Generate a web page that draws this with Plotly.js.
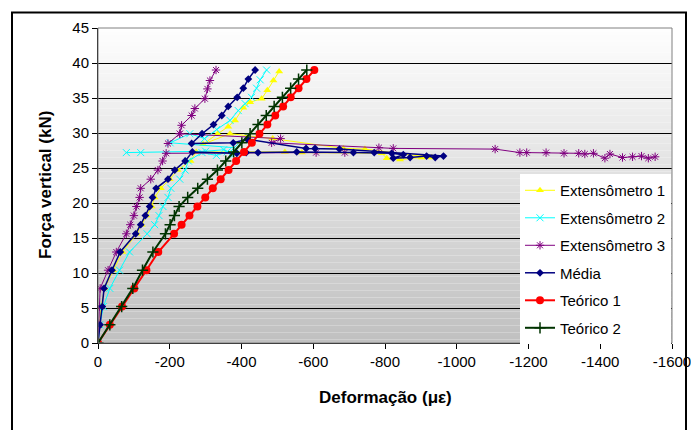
<!DOCTYPE html>
<html>
<head>
<meta charset="utf-8">
<script src="https://cdn.plot.ly/plotly-3.0.1.min.js"></script>
<style>html,body{margin:0;padding:0;background:#fff;}#chart{width:691px;height:430px;}</style>
</head>
<body>
<div id="chart"></div>
<script>
// ---- Data ----
const seriesNames = ["Extensômetro 1", "Extensômetro 2", "Extensômetro 3", "Média", "Teórico 1", "Teórico 2"];

const ext1X = [0,-4,-9,-18,-42,-68,-108,-122,-135,-150,-158,-175,-200,-222,-258,-274,-521,-568,-791,-805,-842,-902,-930,-744,-684,-487,-368,-293,-334,-363,-382,-405,-424,-456,-472,-489,-505];
const ext1Y = [0,2.6,5.2,7.8,10.4,13,15.6,16.9,18.2,19.5,20.8,22.1,23.4,24.7,26,27.3,27.3,27.2,27.1,26.4,26.2,26.5,26.5,27.7,27.8,29.2,29.9,28.4,29.9,30.9,31.8,33.6,34.4,34.9,36.1,37.5,38.8];

const ext2X = [0,-5,-15,-33,-60,-88,-137,-158,-170,-181,-195,-203,-228,-243,-252,-290,-330,-360,-380,-350,-300,-119,-79,null,-380,-201,-256,-297,-331,-368,-391,-410,-428,-442,-452,-470];
const ext2Y = [0,2.6,5.2,7.8,10.4,13,15.6,16.9,18.2,19.5,20.8,22.1,23.4,24.7,26,27.2,26.8,27.3,27.0,27.6,27.4,27.2,27.2,null,27.9,28.6,29.9,29.2,30.5,31.8,33.2,34.2,35.1,36.4,37.6,39.0];

const ext3X = [0,-2,-4,-6,-28,-51,-79,-90,-100,-107,-116,-119,-147,-167,-180,-190,-608,-688,null,-195,-228,-509,-484,-783,-823,-1107,-1176,-1195,-1249,-1299,-1340,-1357,-1381,-1413,-1427,-1462,-1490,-1515,-1534,-1553,null,-228,-233,-261,-270,-298,-305,-312,-329];
const ext3Y = [0,2.6,5.2,7.8,10.4,13,15.6,16.9,18.2,19.5,20.8,22.1,23.4,24.7,26,27.1,27.2,27.2,null,28.5,29.9,29.2,28.6,27.9,27.8,27.7,27.2,27.2,27.2,27.1,27.1,27.0,27.1,26.4,27.0,26.5,26.6,26.7,26.4,26.6,null,29.9,31.1,32.5,33.5,34.9,36.3,37.5,39.0];

const mediaX = [0,-6,-12,-17,-39,-62,-105,-119,-132,-144,-152,-162,-195,-214,-243,-263,-387,-413,-446,-554,-712,-770,-819,-851,-823,-870,-916,-940,-963,-673,-605,-580,-416,-377,-261,-290,-322,-345,-363,-388,-405,-419,-438];
const mediaY = [0,2.6,5.2,7.8,10.4,13,15.6,16.9,18.2,19.5,20.8,22.1,23.4,24.7,26,27.3,27.1,27.2,27.2,27.3,27.2,27.2,27.1,26.9,26.4,26.5,26.7,26.5,26.7,27.7,27.8,27.8,29.1,28.6,28.5,29.9,31.2,32.5,33.8,35.1,36.4,37.7,39.0];

const teo1X = [0,-33,-67,-101,-135,-168,-212,-233,-255,-277,-299,-320,-342,-364,-385,-407,-429,-450,-472,-494,-516,-537,-559,-581,-603];
const teo1Y = [0,2.6,5.2,7.8,10.4,13,15.6,16.9,18.2,19.5,20.8,22.1,23.4,24.7,26,27.3,28.6,29.9,31.2,32.5,33.8,35.1,36.4,37.7,39];

const teo2X = [0,-33,-66,-97,-124,-153,-188,-201,-213,-226,-250,-278,-305,-333,-356,-378,-401,-424,-446,-469,-491,-514,-537,-559,-582];
const teo2Y = [0,2.6,5.2,7.8,10.4,13,15.6,16.9,18.2,19.5,20.8,22.1,23.4,24.7,26,27.3,28.6,29.9,31.2,32.5,33.8,35.1,36.4,37.7,39];

const xTickVals = [0,-200,-400,-600,-800,-1000,-1200,-1400,-1600];
const xTickText = ["0","-200","-400","-600","-800","-1000","-1200","-1400","-1600"];
const yTickVals = [0,5,10,15,20,25,30,35,40,45];

const xTitle = "Deformação (με)";
const yTitle = "Força vertical (kN)";

// ---- Styles ----
const FONT = "Liberation Sans, Arial, sans-serif";
function mk(x, y, i, color, symbol, size, lw, mlw) {
  return {
    x: x, y: y, name: seriesNames[i], type: "scatter", mode: "lines+markers",
    legendgroup: "g" + i,
    line: {color: color, width: lw},
    marker: {symbol: symbol, size: size, color: color, line: {color: color, width: mlw}},
    connectgaps: false
  };
}
const traces = [
  mk(ext1X, ext1Y, 0, "#FFFF00", "triangle-up", 7, 1, 0),
  mk(ext2X, ext2Y, 1, "#00FFFF", "x-thin-open", 7, 1, 1),
  mk(ext3X, ext3Y, 2, "#800080", "asterisk-open", 7, 1, 1),
  mk(mediaX, mediaY, 3, "#000080", "diamond", 6, 1.5, 0),
  mk(teo1X, teo1Y, 4, "#FF0000", "circle", 8, 2, 0),
  mk(teo2X, teo2Y, 5, "#003300", "cross-thin-open", 8, 2, 1.5)
];

// plot-area pixel geometry
const L = 98, R = 672, T = 27.5, B = 343.5, W = 691, H = 430;
const pw = R - L, ph = B - T;
const px = v => (v - L) / pw;
const py = v => (B - v) / ph;

// gradient background bands
const shapes = [];
const N = 90;
for (let i = 0; i < N; i++) {
  const f = (i + 0.5) / N; // 0 top -> 1 bottom
  const c = Math.round(254 - (254 - 192) * f);
  shapes.push({type: "rect", xref: "paper", yref: "paper", layer: "below",
    x0: 0, x1: 1, y0: 1 - (i + 1) / N, y1: 1 - i / N,
    fillcolor: `rgb(${c},${c},${c})`, line: {width: 0}});
}
// plot area border
shapes.push({type: "rect", xref: "paper", yref: "paper", layer: "above",
  x0: 0, x1: 1, y0: 0, y1: 1, line: {color: "#808080", width: 1}, fillcolor: "rgba(0,0,0,0)"});
// outer chart frame
shapes.push({type: "rect", xref: "paper", yref: "paper", layer: "above",
  x0: px(12), x1: px(686), y0: py(440), y1: py(12), line: {color: "#000000", width: 2}, fillcolor: "rgba(0,0,0,0)"});

const layout = {
  width: W, height: H,
  margin: {l: L, r: W - R, t: T, b: H - B, pad: 0},
  paper_bgcolor: "#ffffff",
  plot_bgcolor: "rgba(0,0,0,0)",
  font: {family: FONT, size: 15, color: "#000"},
  showlegend: true,
  legend: {
    x: px(520), y: py(174), xanchor: "left", yanchor: "top",
    bgcolor: "#ffffff", borderwidth: 0, tracegroupgap: 5,
    font: {family: FONT, size: 15, color: "#000"},
    traceorder: "grouped", itemwidth: 30
  },
  xaxis: {
    range: [0, -1600], autorange: false,
    tickmode: "array", tickvals: xTickVals, ticktext: xTickText,
    ticks: "outside", ticklen: 5, tickcolor: "#000", tickwidth: 1,
    showline: true, linecolor: "#000", linewidth: 1,
    showgrid: false, zeroline: false, ticklabeloverflow: "allow",
    tickfont: {family: FONT, size: 15, color: "#000"}
  },
  yaxis: {
    range: [0, 45], autorange: false,
    tickmode: "array", tickvals: yTickVals,
    ticks: "outside", ticklen: 5, tickcolor: "#000", tickwidth: 1,
    showline: true, linecolor: "#000", linewidth: 1,
    showgrid: true, gridcolor: "#000000", gridwidth: 1, zeroline: false,
    tickfont: {family: FONT, size: 15, color: "#000"}
  },
  shapes: shapes,
  annotations: [
    {text: "<b>" + xTitle + "</b>", xref: "paper", yref: "paper", x: 0.5, y: py(398),
     xanchor: "center", yanchor: "middle", showarrow: false, font: {family: FONT, size: 17, color: "#000"}},
    {text: "<b>" + yTitle + "</b>", xref: "paper", yref: "paper", x: px(45), y: py(185),
     xanchor: "center", yanchor: "middle", textangle: -90, showarrow: false, font: {family: FONT, size: 17, color: "#000"}}
  ]
};

Plotly.newPlot("chart", traces, layout, {staticPlot: true, displayModeBar: false});
</script>
</body>
</html>
